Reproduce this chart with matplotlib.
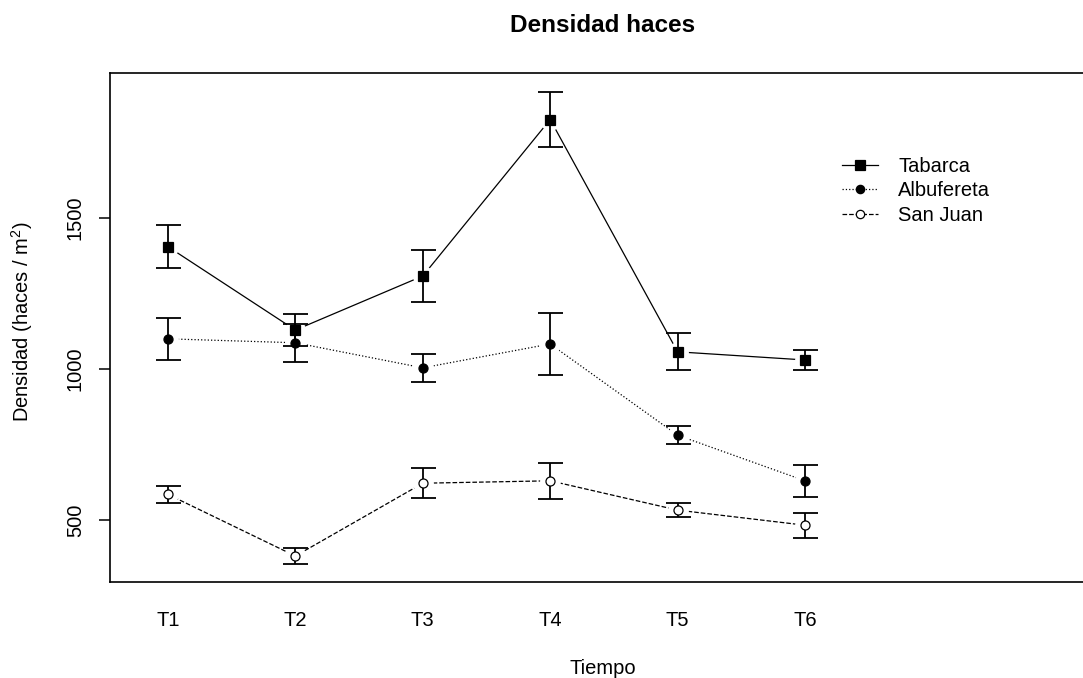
import numpy as np
import matplotlib
matplotlib.use('Agg')
import matplotlib.pyplot as plt

plt.rcParams['font.family'] = ['Liberation Sans', 'DejaVu Sans']
plt.rcParams['mathtext.fontset'] = 'custom'
plt.rcParams['mathtext.rm'] = 'Liberation Sans'
plt.rcParams['mathtext.it'] = 'Liberation Sans'

# Data (mean +/- error)
tiempos = ['T1', 'T2', 'T3', 'T4', 'T5', 'T6']

tabarca = [1405, 1129, 1308, 1826, 1057, 1030]
tabarca_err = [71, 53, 85, 92, 61, 33]

albufereta = [1100, 1087, 1004, 1083, 781, 630]
albufereta_err = [69, 63, 46, 103, 29, 52]

san_juan = [585, 381, 622, 630, 533, 483]
san_juan_err = [27, 25, 50, 60, 23, 41]

x = np.arange(1, len(tiempos) + 1)

fig = plt.figure(figsize=(10.83, 6.78), dpi=100)
ax = fig.add_axes([110 / 1083, 1 - 582 / 678, 986 / 1083, 509 / 678])

series = [
    ('Tabarca', tabarca, tabarca_err, '-', 's', 'black'),
    ('Albufereta', albufereta, albufereta_err, ':', 'o', 'black'),
    ('San Juan', san_juan, san_juan_err, '--', 'o', 'white'),
]

handles = []
for name, vals, errs, ls, mk, fc in series:
    # connecting line (R type="b" leaves a gap around each point)
    ax.plot(x, vals, linestyle=ls, color='black', linewidth=0.9, zorder=1)
    ax.plot(x, vals, linestyle='none', marker='o', markersize=15,
            markerfacecolor='white', markeredgecolor='none', zorder=1.5)
    ax.errorbar(x, vals, yerr=errs, fmt='none', ecolor='black',
                elinewidth=1.3, capsize=9, capthick=1.3, zorder=2)
    ax.plot(x, vals, linestyle='none', marker=mk, markersize=7 if mk == 's' else 6.5,
            markerfacecolor=fc, markeredgecolor='black', markeredgewidth=0.9, zorder=3)
    h, = ax.plot([], [], linestyle=ls, color='black', linewidth=0.9, marker=mk,
                 markersize=7 if mk == 's' else 6, markerfacecolor=fc,
                 markeredgecolor='black', markeredgewidth=0.9)
    handles.append(h)

ax.set_xlim(0.545, 8.284)
ax.set_ylim(295, 1980)

ax.set_xticks(x)
ax.set_xticklabels(tiempos, fontsize=14.5)
ax.tick_params(axis='x', length=0, pad=21)

ax.set_yticks([500, 1000, 1500])
ax.set_yticklabels(['500', '1000', '1500'], fontsize=14.5, rotation=90, va='center')
ax.tick_params(axis='y', length=8, width=1.1, pad=10)

for sp in ax.spines.values():
    sp.set_linewidth(1.2)

fig.text(603 / 1083, 1 - 25 / 678, 'Densidad haces', ha='center', va='center',
         fontsize=17.5, fontweight='bold')
fig.text(603 / 1083, 1 - 668 / 678, 'Tiempo', ha='center', va='center', fontsize=14.5)
fig.text(22 / 1083, 1 - 322 / 678, 'Densidad (haces / m$^2$)', ha='center', va='center',
         rotation=90, fontsize=14.5)

leg = ax.legend(handles, [s[0] for s in series], loc='upper left',
                bbox_to_anchor=(842 / 1083, 1 - 157 / 678), bbox_transform=fig.transFigure,
                frameon=False, fontsize=14.5, handlelength=1.8, handletextpad=1.0,
                labelspacing=0.27, borderpad=0, borderaxespad=0)

fig.savefig('out.png', dpi=100)
